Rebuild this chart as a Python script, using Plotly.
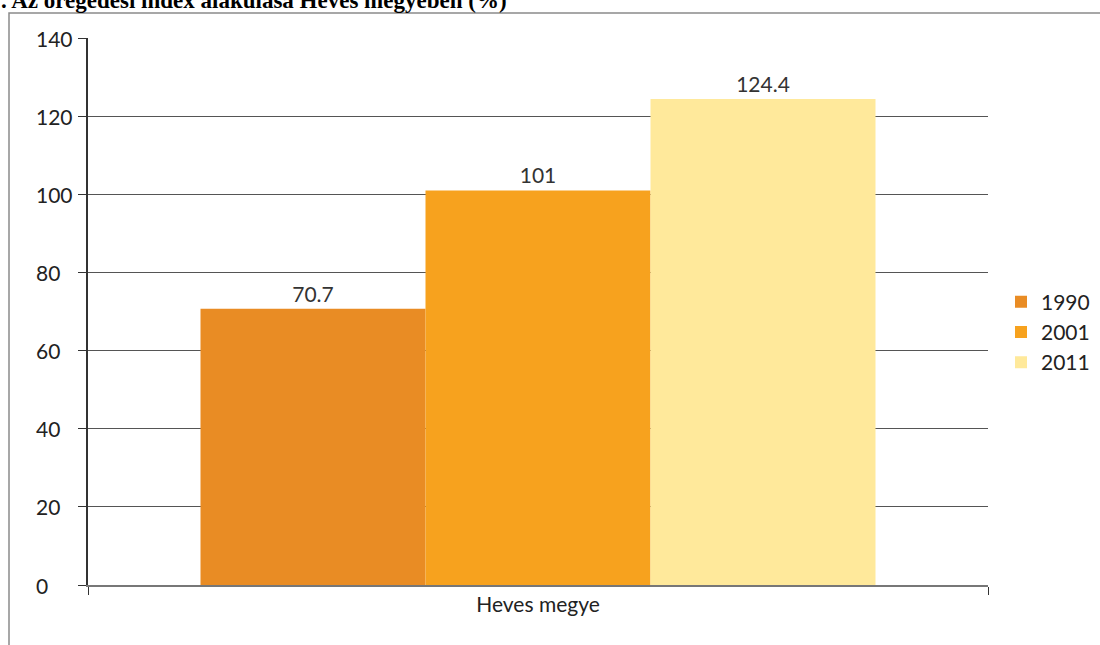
import plotly.graph_objects as go

categories = ["Heves megye"]
years = ["1990", "2001", "2011"]
values = [70.7, 101, 124.4]
labels = ["70.7", "101", "124.4"]
colors = ["#E98C24", "#F7A21E", "#FFE99B"]
y_ticks = [0, 20, 40, 60, 80, 100, 120, 140]
y_tick_text = ["0", "20", "40", "60", "80", "100", "120", "140"]

W, H = 1100, 645
L, R, T, B = 88, 112, 38, 60
PW, PH = W - L - R, H - T - B

fig = go.Figure()
for yr, v, lab, c in zip(years, values, labels, colors):
    fig.add_trace(go.Bar(
        x=categories, y=[v], name=yr, marker=dict(color=c, line=dict(width=0)),
        text=[lab], textposition="outside", cliponaxis=False,
        textfont=dict(family="Lato", size=21, color="#333333"),
    ))

# left-aligned y tick labels, placed on the y axis values
tick_annotations = [
    dict(text=t, x=(34 - L) / PW, xref="paper", y=v, yref="y",
         xanchor="left", yanchor="middle", showarrow=False,
         font=dict(family="Lato", size=21, color="#222222"))
    for v, t in zip(y_ticks, y_tick_text)
]

fig.update_layout(
    width=W, height=H,
    margin=dict(l=L, r=R, t=T, b=B, pad=0, autoexpand=False),
    paper_bgcolor="white", plot_bgcolor="white",
    barmode="group", bargap=0.25, bargroupgap=0,
    font=dict(family="Lato", size=21, color="#222222"),
    showlegend=True,
    legend=dict(x=(1001 - L) / PW, y=(585 - 332) / PH, xanchor="left", yanchor="middle",
                font=dict(family="Lato", size=21, color="#222222"),
                itemwidth=30, tracegroupgap=0),
    xaxis=dict(type="category", tickson="boundaries", ticks="outside", ticklen=8,
               tickcolor="#333333", showline=True, linecolor="#777777", linewidth=2,
               showgrid=False, automargin=False,
               tickfont=dict(family="Lato", size=21, color="#222222")),
    yaxis=dict(range=[0, 140], tickvals=y_ticks, ticks="outside", ticklen=8,
               tickcolor="#333333", showline=True, linecolor="#333333", linewidth=1.5,
               showgrid=True, gridcolor="#555555", gridwidth=1, zeroline=False,
               showticklabels=False, automargin=False),
    shapes=[dict(type="rect", xref="paper", yref="paper",
                 x0=(9 - L) / PW, x1=(W + 20 - L) / PW,
                 y0=-(B + 20) / PH, y1=(585 - 13) / PH,
                 line=dict(color="#8a8a8a", width=1.5), layer="below")],
    annotations=tick_annotations + [
        dict(text="<b>. Az öregedési index alakulása Heves megyében (%)</b>",
             xref="paper", yref="paper", x=(-1 - L) / PW, y=(585 - 1) / PH,
             xanchor="left", yanchor="middle", showarrow=False,
             font=dict(family="Liberation Serif", size=23, color="#000000"))],
)

fig.write_html("out.html", config={"displayModeBar": False},
               post_script="document.body.style.margin='0';document.body.style.padding='0';")
